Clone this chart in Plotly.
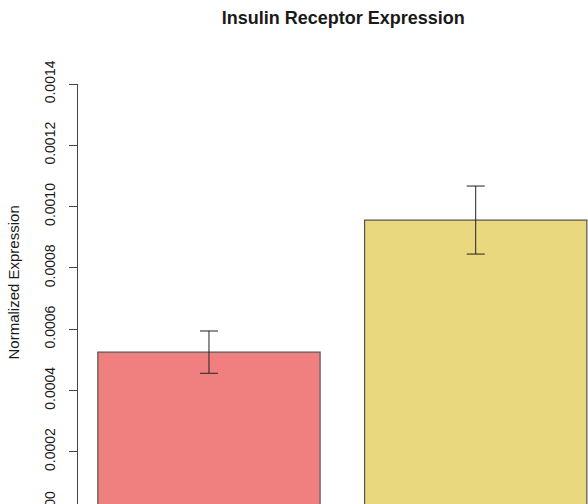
import plotly.graph_objects as go

groups = ["Group 1", "Group 2"]
expression = [0.000525, 0.000956]
errors = [0.000069, 0.000111]
bar_colors = ["#F08080", "#EAD87F"]
y_ticks = [0.0002, 0.0004, 0.0006, 0.0008, 0.0010, 0.0012, 0.0014]

font_family = "Liberation Sans, Arial, sans-serif"

fig = go.Figure(go.Bar(
    x=groups, y=expression,
    marker=dict(color=bar_colors, line=dict(color="#555555", width=1.2)),
    error_y=dict(type="data", array=errors, color="#222222", thickness=1, width=9),
))

fig.update_layout(
    width=588, height=504,
    margin=dict(l=78, r=0, t=84, b=0),
    paper_bgcolor="white", plot_bgcolor="white",
    font=dict(family=font_family, size=14, color="#1a1a1a"),
    bargap=0.1667,
    showlegend=False,
    title=dict(text="<b>Insulin Receptor Expression</b>", font=dict(size=18),
               x=0.52, xanchor="center", xref="paper",
               y=1 - 18 / 504, yanchor="middle", yref="container"),
)

fig.update_xaxes(range=[-0.491, 1.421], showticklabels=False, showline=False,
                 showgrid=False, zeroline=False, ticks="")
fig.update_yaxes(range=[0.0000294, 0.0014], tickvals=y_ticks, tickformat=".4f",
                 tickangle=-90, ticks="outside", ticklen=8, tickcolor="#444444",
                 ticklabelstandoff=8,
                 showline=True, linecolor="#444444", linewidth=1,
                 showgrid=False, zeroline=False)

# y title and the cropped 0.0000 label
fig.add_annotation(text="Normalized Expression", textangle=-90, xref="paper", yref="paper",
                   x=(12.5 - 78) / 510, y=(504 - 283) / 420, showarrow=False,
                   xanchor="center", yanchor="middle", font=dict(size=15))
fig.add_annotation(text="0.0000", textangle=-90, xref="paper", yref="paper",
                   x=(50 - 78) / 510, y=-(513 - 504) / 420, showarrow=False,
                   xanchor="center", yanchor="middle", font=dict(size=14))

# drop the default body margin so the figure sits at the window corner
fig.write_html("out.html", config={"displayModeBar": False},
               post_script="document.body.style.margin='0';")
